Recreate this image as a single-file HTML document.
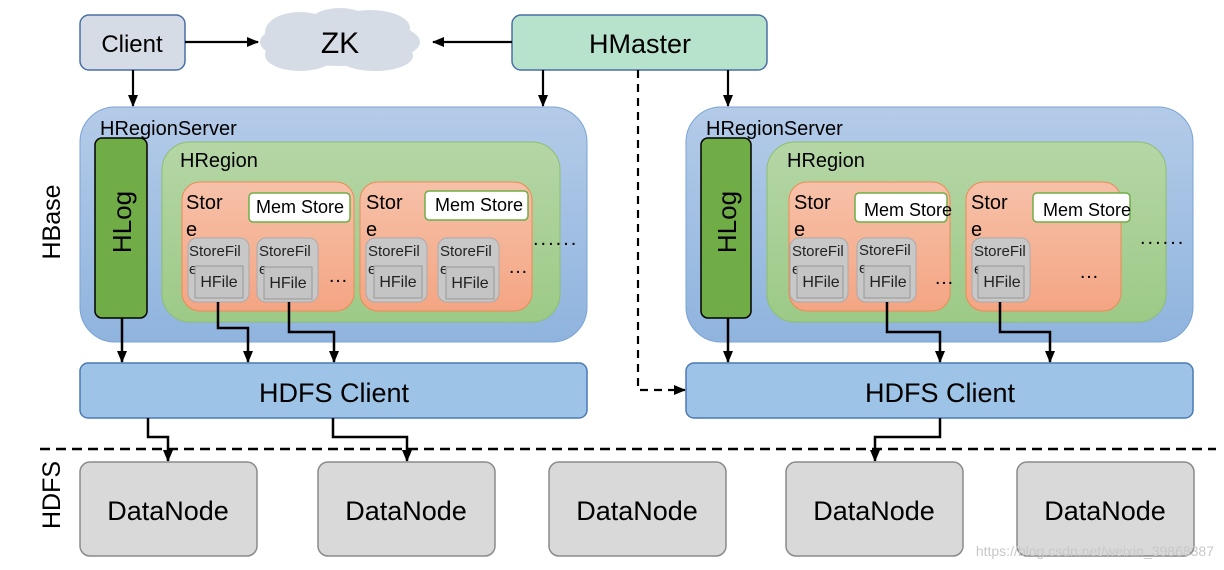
<!DOCTYPE html>
<html><head><meta charset="utf-8"><style>
html,body{margin:0;padding:0;background:#fff;}
svg{display:block;font-family:"Liberation Sans",Arial,sans-serif;}
</style></head><body>
<svg width="1224" height="570" viewBox="0 0 1224 570" xmlns="http://www.w3.org/2000/svg">
<defs>
<linearGradient id="blue" x1="0" y1="0" x2="0" y2="1"><stop offset="0" stop-color="#b4cbe8"/><stop offset="1" stop-color="#8fb4de"/></linearGradient>
<linearGradient id="green" x1="0" y1="0" x2="0" y2="1"><stop offset="0" stop-color="#b5d6a6"/><stop offset="1" stop-color="#9dca87"/></linearGradient>
<linearGradient id="sal" x1="0" y1="0" x2="0" y2="1"><stop offset="0" stop-color="#f6c1a9"/><stop offset="1" stop-color="#f4a583"/></linearGradient>
<marker id="ar" markerWidth="12" markerHeight="12" refX="11" refY="6" orient="auto" markerUnits="userSpaceOnUse"><path d="M0,1 L12,6 L0,11 z" fill="#000"/></marker>
</defs>

<rect x="80" y="15" width="105" height="55" rx="9" fill="#d6dce5" stroke="#4a6fa5" stroke-width="1.5"/>
<text x="132" y="52" font-size="24" text-anchor="middle">Client</text>
<g fill="#d6dce5">
<ellipse cx="340" cy="42" rx="80" ry="24"/>
<ellipse cx="300" cy="32" rx="35" ry="20"/><ellipse cx="370" cy="28" rx="40" ry="18"/>
<ellipse cx="300" cy="55" rx="35" ry="16"/><ellipse cx="375" cy="56" rx="38" ry="15"/>
<ellipse cx="340" cy="22" rx="30" ry="14"/>
<ellipse cx="205" cy="73" rx="3" ry="4" transform="translate(0,0)" opacity="0"/>
<circle cx="203" cy="73" r="0"/>
</g>
<text x="340" y="53" font-size="30" text-anchor="middle">ZK</text>
<rect x="512" y="15" width="255" height="55" rx="9" fill="#b7e3cd" stroke="#4a6fa5" stroke-width="1.5"/>
<text x="640" y="53" font-size="27" text-anchor="middle">HMaster</text>
<g stroke="#000" stroke-width="2.2" fill="none">
<line x1="185" y1="42" x2="258" y2="42" marker-end="url(#ar)"/>
<line x1="512" y1="42" x2="433" y2="42" marker-end="url(#ar)"/>
<line x1="133" y1="70" x2="133" y2="106" marker-end="url(#ar)"/>
<line x1="543" y1="70" x2="543" y2="106" marker-end="url(#ar)"/>
<line x1="728" y1="70" x2="728" y2="106" marker-end="url(#ar)"/>
<path d="M638,70 V390 H685" stroke-dasharray="8,6" marker-end="url(#ar)"/>
</g>

<text transform="translate(60,222) rotate(-90)" font-size="25" text-anchor="middle">HBase</text>
<text transform="translate(60,495) rotate(-90)" font-size="25" text-anchor="middle">HDFS</text>

<g>
<rect x="80" y="107" width="507" height="235" rx="35" fill="url(#blue)" stroke="#7aa3d4"/>
<text x="100" y="135" font-size="20">HRegionServer</text>
<rect x="95" y="138" width="52" height="180" rx="7" fill="#70ad47" stroke="#000" stroke-width="1.5"/>
<text transform="translate(131,222) rotate(-90)" font-size="26" text-anchor="middle">HLog</text>
<rect x="162" y="142" width="398" height="180" rx="28" fill="url(#green)" stroke="#8cbf6e"/>
<text x="180" y="167" font-size="20">HRegion</text>
<rect x="182" y="182" width="172" height="129" rx="18" fill="url(#sal)" stroke="#ed8a55"/>
<rect x="360" y="182" width="172" height="129" rx="18" fill="url(#sal)" stroke="#ed8a55"/>
<text x="186" y="209" font-size="20">Stor</text><text x="186" y="236" font-size="20">e</text>
<text x="366" y="209" font-size="20">Stor</text><text x="366" y="236" font-size="20">e</text>
<rect x="249" y="193" width="101" height="29" rx="4" fill="#fff" stroke="#70ad47" stroke-width="1.5"/>
<text x="300" y="213" font-size="18" text-anchor="middle">Mem Store</text>
<rect x="425" y="191" width="103" height="29" rx="4" fill="#fff" stroke="#70ad47" stroke-width="1.5"/>
<text x="479" y="211" font-size="18" text-anchor="middle">Mem Store</text>
<g font-size="15" fill="#222">
<rect x="188" y="238" width="61" height="64" rx="9" fill="#c8c8c8" stroke="#aaa"/>
<text x="189" y="256">StoreFil</text><text x="189" y="274">e</text>
<rect x="195" y="266" width="48" height="32" fill="#c4c4c4" stroke="#999"/>
<text x="219" y="287" text-anchor="middle" font-size="16">HFile</text>
<rect x="257" y="238" width="61" height="64" rx="9" fill="#c8c8c8" stroke="#aaa"/>
<text x="259" y="256">StoreFil</text><text x="259" y="274">e</text>
<rect x="264" y="267" width="48" height="32" fill="#c4c4c4" stroke="#999"/>
<text x="288" y="288" text-anchor="middle" font-size="16">HFile</text>
<rect x="366" y="238" width="61" height="64" rx="9" fill="#c8c8c8" stroke="#aaa"/>
<text x="368" y="256">StoreFil</text><text x="368" y="274">e</text>
<rect x="374" y="266" width="48" height="32" fill="#c4c4c4" stroke="#999"/>
<text x="398" y="287" text-anchor="middle" font-size="16">HFile</text>
<rect x="438" y="238" width="61" height="64" rx="9" fill="#c8c8c8" stroke="#aaa"/>
<text x="440" y="256">StoreFil</text><text x="440" y="274">e</text>
<rect x="446" y="267" width="48" height="32" fill="#c4c4c4" stroke="#999"/>
<text x="470" y="288" text-anchor="middle" font-size="16">HFile</text>
</g>
<text x="328" y="282" font-size="20" letter-spacing="2">…</text>
<text x="508" y="273" font-size="20" letter-spacing="2">…</text>
<text x="533" y="245" font-size="20" letter-spacing="2">......</text>
</g>

<g>
<rect x="686" y="107" width="507" height="235" rx="35" fill="url(#blue)" stroke="#7aa3d4"/>
<text x="706" y="135" font-size="20">HRegionServer</text>
<rect x="701" y="138" width="50" height="180" rx="7" fill="#70ad47" stroke="#000" stroke-width="1.5"/>
<text transform="translate(736,222) rotate(-90)" font-size="26" text-anchor="middle">HLog</text>
<rect x="767" y="142" width="399" height="180" rx="28" fill="url(#green)" stroke="#8cbf6e"/>
<text x="787" y="167" font-size="20">HRegion</text>
<rect x="789" y="182" width="161" height="129" rx="18" fill="url(#sal)" stroke="#ed8a55"/>
<rect x="966" y="182" width="155" height="129" rx="18" fill="url(#sal)" stroke="#ed8a55"/>
<text x="794" y="209" font-size="20">Stor</text><text x="794" y="236" font-size="20">e</text>
<text x="971" y="209" font-size="20">Stor</text><text x="971" y="236" font-size="20">e</text>
<rect x="855" y="193" width="92" height="29" rx="4" fill="#fff" stroke="#70ad47" stroke-width="1.5"/>
<text x="908" y="216" font-size="18" text-anchor="middle">Mem Store</text>
<rect x="1033" y="193" width="97" height="29" rx="4" fill="#fff" stroke="#70ad47" stroke-width="1.5"/>
<text x="1087" y="216" font-size="18" text-anchor="middle">Mem Store</text>
<g font-size="15" fill="#222">
<rect x="790" y="238" width="58" height="64" rx="9" fill="#c8c8c8" stroke="#aaa"/>
<text x="792" y="256">StoreFil</text><text x="792" y="274">e</text>
<rect x="797" y="266" width="46" height="32" fill="#c4c4c4" stroke="#999"/>
<text x="821" y="287" text-anchor="middle" font-size="16">HFile</text>
<rect x="857" y="238" width="59" height="64" rx="9" fill="#c8c8c8" stroke="#aaa"/>
<text x="859" y="255">StoreFil</text><text x="859" y="273">e</text>
<rect x="864" y="266" width="46" height="32" fill="#c4c4c4" stroke="#999"/>
<text x="888" y="287" text-anchor="middle" font-size="16">HFile</text>
<rect x="972" y="238" width="58" height="64" rx="9" fill="#c8c8c8" stroke="#aaa"/>
<text x="974" y="256">StoreFil</text><text x="974" y="274">e</text>
<rect x="978" y="266" width="46" height="32" fill="#c4c4c4" stroke="#999"/>
<text x="1002" y="287" text-anchor="middle" font-size="16">HFile</text>
</g>
<text x="934" y="284" font-size="20" letter-spacing="2">…</text>
<text x="1079" y="278" font-size="20" letter-spacing="2">…</text>
<text x="1140" y="244" font-size="20" letter-spacing="2">......</text>
</g>

<rect x="80" y="363" width="507" height="55" rx="8" fill="#9dc3e6" stroke="#4a7ab5" stroke-width="1.5"/>
<text x="334" y="402" font-size="27" text-anchor="middle">HDFS Client</text>
<rect x="686" y="363" width="507" height="55" rx="8" fill="#9dc3e6" stroke="#4a7ab5" stroke-width="1.5"/>
<text x="940" y="402" font-size="27" text-anchor="middle">HDFS Client</text>

<g stroke="#000" stroke-width="2.5" fill="none">
<line x1="122" y1="318" x2="122" y2="362" marker-end="url(#ar)"/>
<path d="M218,302 V328 H248 V362" marker-end="url(#ar)"/>
<path d="M289,302 V332 H334 V362" marker-end="url(#ar)"/>
<line x1="728" y1="318" x2="728" y2="362" marker-end="url(#ar)"/>
<path d="M887,302 V332 H940 V362" marker-end="url(#ar)"/>
<path d="M1000,302 V332 H1050 V362" marker-end="url(#ar)"/>
<path d="M148,418 V437 H168 V461" marker-end="url(#ar)"/>
<path d="M333,418 V437 H407 V461" marker-end="url(#ar)"/>
<path d="M940,418 V437 H875 V461" marker-end="url(#ar)"/>
</g>
<line x1="40" y1="449" x2="1216" y2="449" stroke="#000" stroke-width="2.5" stroke-dasharray="10,6"/>

<g font-size="27" text-anchor="middle">
<rect x="80" y="462" width="177" height="94" rx="10" fill="#d9d9d9" stroke="#8a8a8a" stroke-width="1.5"/><text x="168" y="520">DataNode</text>
<rect x="318" y="462" width="177" height="94" rx="10" fill="#d9d9d9" stroke="#8a8a8a" stroke-width="1.5"/><text x="406" y="520">DataNode</text>
<rect x="549" y="462" width="177" height="94" rx="10" fill="#d9d9d9" stroke="#8a8a8a" stroke-width="1.5"/><text x="637" y="520">DataNode</text>
<rect x="786" y="462" width="177" height="94" rx="10" fill="#d9d9d9" stroke="#8a8a8a" stroke-width="1.5"/><text x="874" y="520">DataNode</text>
<rect x="1017" y="462" width="177" height="94" rx="10" fill="#d9d9d9" stroke="#8a8a8a" stroke-width="1.5"/><text x="1105" y="520">DataNode</text>
</g>
<text x="1214" y="556" font-size="14" fill="#c8c8c8" text-anchor="end">https://blog.csdn.net/weixin_39868387</text>
</svg>
</body></html>
